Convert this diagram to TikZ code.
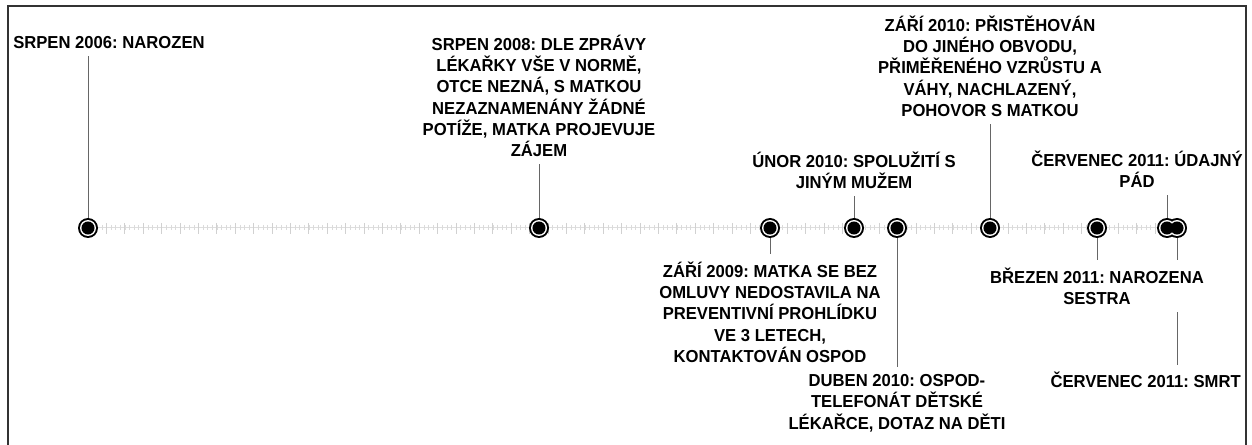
\documentclass[tikz,border=0pt]{standalone}
\usepackage{fontspec}
\setmainfont{Liberation Sans}
\newfontfamily\lblfont{Liberation Sans}[FakeStretch=0.96]
\usetikzlibrary{backgrounds}
\begin{document}
\begin{tikzpicture}[x=0.75pt,y=-0.75pt,
  lbl/.style={fill=white, align=center, inner sep=5.25pt, font=\lblfont\fontsize{13}{16}\selectfont\bfseries\frenchspacing},
  conn/.style={draw=black!60, line width=0.75pt},
  axisline/.style={draw=black!13, line width=0.75pt},
  majortick/.style={draw=black!18, line width=0.6pt},
  minortick/.style={draw=black!14, line width=0.45pt},
  frameline/.style={draw=black!80, line width=1.5pt}]
\useasboundingbox (0,0) rectangle (1252,445);
% marker positions
\coordinate (m1) at (88,228);
\coordinate (m2) at (539,228);
\coordinate (m3) at (770,228);
\coordinate (m4) at (854,228);
\coordinate (m5) at (897,228);
\coordinate (m6) at (990,228);
\coordinate (m7) at (1097,228);
\coordinate (m8) at (1167,228);
\coordinate (m9) at (1177,228);
% labels
\node[lbl, anchor=west] (l1) at (6,43) {SRPEN 2006: NAROZEN};
\node[lbl] (l2) at (539,96) {SRPEN 2008: DLE ZPRÁVY\\LÉKAŘKY VŠE V NORMĚ,\\OTCE NEZNÁ, S MATKOU\\NEZAZNAMENÁNY ŽÁDNÉ\\POTÍŽE, MATKA PROJEVUJE\\ZÁJEM};
\node[lbl] (l3) at (854,170) {ÚNOR 2010: SPOLUŽITÍ S\\JINÝM MUŽEM};
\node[lbl] (l4) at (990,66) {ZÁŘÍ 2010: PŘISTĚHOVÁN\\DO JINÉHO OBVODU,\\PŘIMĚŘENÉHO VZRŮSTU A\\VÁHY, NACHLAZENÝ,\\POHOVOR S MATKOU};
\node[lbl, anchor=east] (l5) at (1250,169) {ČERVENEC 2011: ÚDAJNÝ\\PÁD};
\node[lbl] (l6) at (770,312) {ZÁŘÍ 2009: MATKA SE BEZ\\OMLUVY NEDOSTAVILA NA\\PREVENTIVNÍ PROHLÍDKU\\VE 3 LETECH,\\KONTAKTOVÁN OSPOD};
\node[lbl] (l7) at (897,403) {DUBEN 2010: OSPOD-\\TELEFONÁT DĚTSKÉ\\LÉKAŘCE, DOTAZ NA DĚTI};
\node[lbl] (l8) at (1097,286) {BŘEZEN 2011: NAROZENA\\SESTRA};
\node[lbl, anchor=east] (l9) at (1248,380) {ČERVENEC 2011: SMRT};
\begin{pgfonlayer}{background}
  \fill[white] (0,0) rectangle (1252,445);
  \draw[axisline] (m1) -- (m9);
  \foreach \i in {0,...,236} \draw[minortick] ({88+4.6*\i},225) -- ++(0,5);
  \foreach \i in {1,...,59} \draw[majortick] ({88+18.4*\i},223) -- ++(0,11);
  \draw[conn] (m1) -- (m1 |- l1.south);
  \draw[conn] (m2) -- (l2.south);
  \draw[conn] (m4) -- (l3.south);
  \draw[conn] (m6) -- (l4.south);
  \draw[conn] (m8) -- (m8 |- l5.south);
  \draw[conn] (m3) -- (l6.north);
  \draw[conn] (m5) -- (l7.north);
  \draw[conn] (m7) -- (l8.north);
  \draw[conn] (m9) -- (m9 |- l9.north);
\end{pgfonlayer}
% markers, drawn in layers
\foreach \i in {1,...,9} \fill[black] (m\i) circle (7.5pt);
\foreach \i in {1,...,9} \fill[white] (m\i) circle (6pt);
\foreach \i in {1,...,9} \fill[black] (m\i) circle (4.9pt);
% frame
\draw[frameline] (7.5,447) -- (7.5,6.5) -- (1245.5,6.5) -- (1245.5,447);
\end{tikzpicture}
\end{document}
